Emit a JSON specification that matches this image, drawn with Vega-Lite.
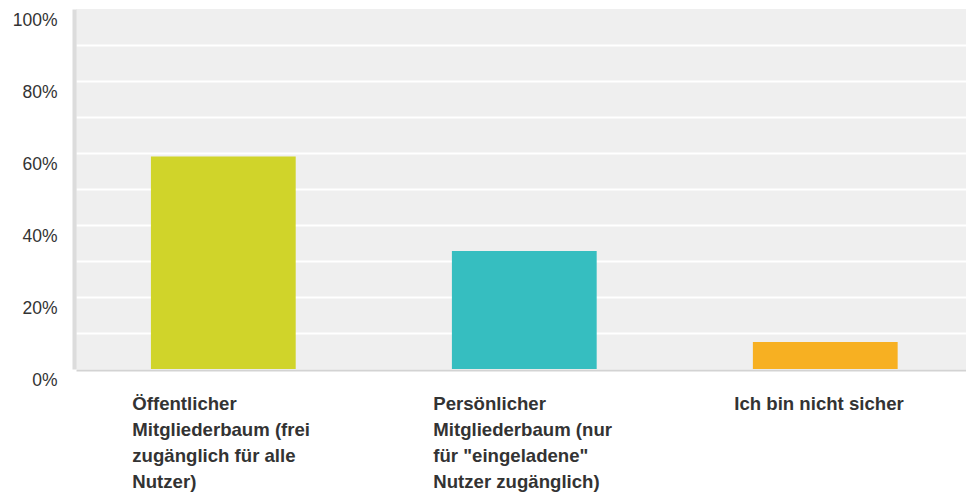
{
  "$schema": "https://vega.github.io/schema/vega-lite/v6.json",
  "width": 890,
  "height": 360,
  "autosize": {"type": "none"},
  "padding": {"left": 76, "top": 9, "right": 0, "bottom": 124},
  "background": "white",
  "config": {
    "view": {"fill": "#efefef", "stroke": null},
    "font": "Liberation Sans"
  },
  "data": {
    "values": [
      {"answer": "Öffentlicher Mitgliederbaum (frei zugänglich für alle Nutzer)", "share": 0.59, "color": "#d0d42a"},
      {"answer": "Persönlicher Mitgliederbaum (nur für \"eingeladene\" Nutzer zugänglich)", "share": 0.328, "color": "#36bec0"},
      {"answer": "Ich bin nicht sicher", "share": 0.075, "color": "#f7b022"}
    ]
  },
  "mark": {"type": "bar"},
  "encoding": {
    "x": {
      "field": "answer",
      "type": "nominal",
      "sort": null,
      "scale": {"paddingInner": 0.519, "paddingOuter": 0.238, "align": 0.523},
      "axis": {
        "title": null,
        "ticks": false,
        "grid": false,
        "offset": 1,
        "domainColor": "#d3d3d3",
        "domainWidth": 2,
        "labelAngle": 0,
        "labelAlign": "left",
        "labelBaseline": "top",
        "labelOffset": -91,
        "labelPadding": 24,
        "labelFont": "Liberation Sans",
        "labelFontSize": 18.6,
        "labelFontWeight": "bold",
        "labelColor": "#333333",
        "labelLineHeight": 26.2,
        "labelLimit": 0,
        "labelExpr": "datum.label == 'Ich bin nicht sicher' ? 'Ich bin nicht sicher' : (indexof(datum.label, 'Öffentlicher') == 0 ? ['Öffentlicher', 'Mitgliederbaum (frei', 'zugänglich für alle', 'Nutzer)'] : ['Persönlicher', 'Mitgliederbaum (nur', 'für \"eingeladene\"', 'Nutzer zugänglich)'])"
      }
    },
    "y": {
      "field": "share",
      "type": "quantitative",
      "scale": {"domain": [0, 1], "nice": false},
      "axis": {
        "title": null,
        "values": [0, 0.1, 0.2, 0.3, 0.4, 0.5, 0.6, 0.7, 0.8, 0.9, 1],
        "ticks": false,
        "offset": 2,
        "domainColor": "#dcdcdc",
        "domainWidth": 4,
        "gridColor": "#ffffff",
        "gridWidth": 2,
        "gridOpacity": {"condition": {"test": "datum.value >= 0.99 || datum.value <= 0.01", "value": 0}, "value": 1},
        "labelExpr": "round(datum.value * 100) % 20 == 0 ? round(datum.value * 100) + '%' : ''",
        "labelBaseline": "top",
        "labelOffset": 2,
        "labelPadding": 17,
        "labelFont": "Liberation Sans",
        "labelFontSize": 17.5,
        "labelColor": "#333333"
      }
    },
    "color": {"field": "color", "type": "nominal", "scale": null, "legend": null}
  }
}
